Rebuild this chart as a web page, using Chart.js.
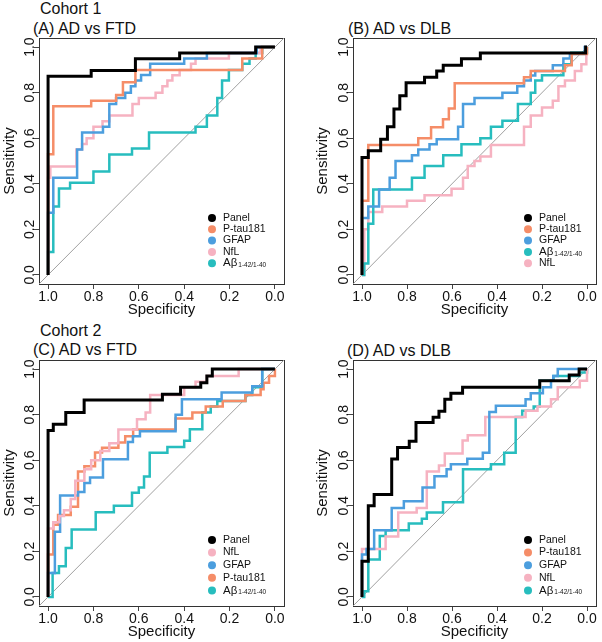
<!DOCTYPE html>
<html>
<head>
<meta charset="utf-8">
<script src="https://cdn.jsdelivr.net/npm/chart.js@4.4.1/dist/chart.umd.min.js"></script>
<style>
  body { margin: 0; background: #fff; }
  #wrap { position: relative; width: 602px; height: 642px; background: #fff; overflow: hidden; }
  canvas { position: absolute; }
  .ttl { position: absolute; font-family: "Liberation Sans", Arial, sans-serif; font-size: 16px; line-height: 1; color: #111; white-space: nowrap; }
</style>
</head>
<body>
<div id="wrap">
  <div class="ttl" style="left:40px; top:1px;">Cohort 1</div>
  <div class="ttl" style="left:33px; top:21px;">(A) AD vs FTD</div>
  <div class="ttl" style="left:348px; top:21px;">(B) AD vs DLB</div>
  <div class="ttl" style="left:40px; top:323px;">Cohort 2</div>
  <div class="ttl" style="left:33px; top:342px;">(C) AD vs FTD</div>
  <div class="ttl" style="left:347px; top:343px;">(D) AD vs DLB</div>
  <canvas id="chartA" width="300" height="320" style="left:0px; top:0px;"></canvas>
  <canvas id="chartB" width="302" height="320" style="left:300px; top:0px;"></canvas>
  <canvas id="chartC" width="300" height="322" style="left:0px; top:320px;"></canvas>
  <canvas id="chartD" width="302" height="322" style="left:300px; top:320px;"></canvas>
</div>
<script>
// ---------------------------------------------------------------
// data: step corners of each ROC curve (specificity, sensitivity)
// ---------------------------------------------------------------
const tickValues = [0, 0.2, 0.4, 0.6, 0.8, 1.0];

// (A) Cohort 1, AD vs FTD
const specA_panel = [1, 0.81, 0.615, 0.42, 0.085];
const sensA_panel = [0.872, 0.897, 0.949, 0.974, 1.0];
const specA_ptau = [1, 0.977, 0.81, 0.70, 0.67, 0.615, 0.144, 0.056];
const sensA_ptau = [0.53, 0.74, 0.765, 0.79, 0.846, 0.90, 0.95, 1.0];
const specA_gfap = [1, 0.977, 0.872, 0.85, 0.758, 0.73, 0.70, 0.66, 0.635, 0.615, 0.59, 0.55, 0.40, 0.30, 0.08];
const sensA_gfap = [0.273, 0.427, 0.55, 0.625, 0.65, 0.75, 0.777, 0.80, 0.828, 0.853, 0.878, 0.927, 0.95, 0.974, 1.0];
const specA_nfl = [1, 0.99, 0.875, 0.85, 0.83, 0.80, 0.76, 0.73, 0.628, 0.60, 0.526, 0.496, 0.474, 0.452, 0.42, 0.37, 0.35, 0.203, 0.063];
const sensA_nfl = [0.427, 0.476, 0.55, 0.575, 0.60, 0.65, 0.675, 0.70, 0.75, 0.777, 0.80, 0.828, 0.853, 0.877, 0.90, 0.927, 0.95, 0.974, 1.0];
const specA_ab = [1, 0.977, 0.952, 0.903, 0.80, 0.73, 0.63, 0.555, 0.35, 0.30, 0.254, 0.233, 0.203, 0.144, 0.112, 0.085, 0.056];
const sensA_ab = [0.10, 0.30, 0.379, 0.405, 0.454, 0.528, 0.555, 0.625, 0.65, 0.70, 0.777, 0.853, 0.90, 0.927, 0.95, 0.974, 1.0];

// (B) Cohort 1, AD vs DLB
const specB_panel = [1, 0.972, 0.917, 0.887, 0.858, 0.832, 0.804, 0.722, 0.668, 0.639, 0.558, 0.474, 0.006];
const sensB_panel = [0.515, 0.545, 0.596, 0.65, 0.728, 0.787, 0.843, 0.868, 0.895, 0.92, 0.949, 0.974, 1.0];
const specB_ptau = [1, 0.972, 0.75, 0.693, 0.64, 0.614, 0.588, 0.28, 0.25, 0.098, 0.068, 0.0];
const sensB_ptau = [0.325, 0.57, 0.60, 0.648, 0.683, 0.731, 0.841, 0.868, 0.895, 0.92, 0.97, 1.0];
const specB_gfap = [1, 0.972, 0.924, 0.877, 0.851, 0.778, 0.75, 0.70, 0.668, 0.573, 0.551, 0.50, 0.376, 0.31, 0.28, 0.25, 0.23, 0.152, 0.105, 0.076, 0.01];
const sensB_gfap = [0.25, 0.30, 0.375, 0.427, 0.50, 0.525, 0.55, 0.574, 0.596, 0.65, 0.75, 0.777, 0.80, 0.828, 0.853, 0.875, 0.895, 0.92, 0.95, 0.97, 1.0];
const specB_ab = [0.99, 0.972, 0.95, 0.778, 0.722, 0.639, 0.558, 0.474, 0.427, 0.376, 0.307, 0.25, 0.23, 0.20, 0.105, 0.07, 0.0];
const sensB_ab = [0.05, 0.225, 0.375, 0.427, 0.478, 0.525, 0.574, 0.60, 0.65, 0.677, 0.75, 0.80, 0.853, 0.877, 0.925, 0.975, 1.0];
const specB_nfl = [0.99, 0.972, 0.91, 0.80, 0.722, 0.602, 0.551, 0.53, 0.50, 0.474, 0.427, 0.28, 0.25, 0.20, 0.152, 0.127, 0.098, 0.054, 0.025, 0.003];
const sensB_nfl = [0.20, 0.276, 0.30, 0.325, 0.35, 0.378, 0.427, 0.478, 0.50, 0.52, 0.57, 0.65, 0.70, 0.735, 0.765, 0.828, 0.853, 0.895, 0.925, 1.0];

// (C) Cohort 2, AD vs FTD
const specC_panel = [1, 0.977, 0.922, 0.841, 0.496, 0.416, 0.327, 0.30, 0.276];
const sensC_panel = [0.73, 0.758, 0.81, 0.864, 0.89, 0.92, 0.94, 0.97, 1.0];
const specC_nfl = [1, 0.977, 0.95, 0.93, 0.90, 0.88, 0.84, 0.81, 0.77, 0.73, 0.69, 0.608, 0.57, 0.55, 0.40, 0.35, 0.30, 0.16];
const sensC_nfl = [0.30, 0.328, 0.355, 0.38, 0.43, 0.51, 0.56, 0.60, 0.64, 0.675, 0.735, 0.78, 0.81, 0.886, 0.92, 0.945, 0.97, 1.0];
const specC_gfap = [1, 0.97, 0.947, 0.868, 0.84, 0.815, 0.758, 0.648, 0.626, 0.595, 0.438, 0.41, 0.235, 0.10, 0.056];
const sensC_gfap = [0.105, 0.286, 0.445, 0.46, 0.50, 0.524, 0.604, 0.68, 0.705, 0.727, 0.80, 0.868, 0.897, 0.925, 1.0];
const specC_ptau = [1, 0.977, 0.956, 0.90, 0.868, 0.84, 0.793, 0.762, 0.69, 0.66, 0.625, 0.438, 0.364, 0.305, 0.23, 0.13, 0.063, 0.05, 0.026, 0];
const sensC_ptau = [0.186, 0.317, 0.36, 0.396, 0.55, 0.573, 0.634, 0.655, 0.678, 0.705, 0.735, 0.783, 0.81, 0.836, 0.86, 0.886, 0.912, 0.94, 0.97, 1.0];
const specC_ab = [0.98, 0.952, 0.922, 0.896, 0.79, 0.71, 0.63, 0.60, 0.577, 0.552, 0.474, 0.40, 0.375, 0.32, 0.283, 0.254, 0.13, 0.10, 0.056];
const sensC_ab = [0.105, 0.135, 0.215, 0.296, 0.372, 0.40, 0.457, 0.48, 0.528, 0.633, 0.658, 0.685, 0.736, 0.81, 0.836, 0.86, 0.886, 0.92, 1.0];

// (D) Cohort 2, AD vs DLB
const specD_panel = [1, 0.972, 0.946, 0.868, 0.842, 0.79, 0.76, 0.684, 0.658, 0.632, 0.605, 0.553, 0.21, 0.079, 0.035];
const sensD_panel = [0.157, 0.40, 0.45, 0.605, 0.656, 0.683, 0.766, 0.789, 0.815, 0.868, 0.894, 0.92, 0.949, 0.974, 1.0];
const specD_ptau = [];
const sensD_ptau = [];
const specD_gfap = [1, 0.98, 0.946, 0.868, 0.814, 0.731, 0.678, 0.624, 0.605, 0.532, 0.463, 0.434, 0.405, 0.273, 0.25, 0.196, 0.16, 0.15, 0.13];
const sensD_gfap = [0.186, 0.21, 0.293, 0.39, 0.42, 0.48, 0.53, 0.56, 0.582, 0.607, 0.633, 0.812, 0.839, 0.868, 0.894, 0.92, 0.949, 0.97, 1.0];
const specD_nfl = [1, 0.895, 0.839, 0.757, 0.712, 0.658, 0.632, 0.553, 0.53, 0.452, 0.273, 0.22, 0.16, 0.13, 0.032, 0.0];
const sensD_nfl = [0.21, 0.265, 0.37, 0.39, 0.55, 0.577, 0.63, 0.687, 0.71, 0.79, 0.817, 0.836, 0.868, 0.92, 0.949, 1.0];
const specD_ab = [0.99, 0.972, 0.921, 0.895, 0.792, 0.734, 0.712, 0.64, 0.551, 0.427, 0.368, 0.317, 0.288, 0.237, 0.21, 0.149, 0.035, 0];
const sensD_ab = [0.025, 0.164, 0.267, 0.293, 0.322, 0.343, 0.37, 0.416, 0.56, 0.582, 0.633, 0.79, 0.817, 0.836, 0.949, 0.97, 0.985, 1.0];

// ---------------------------------------------------------------
const colors = { 'Panel': '#000000', 'P-tau181': '#F58D68', 'GFAP': '#4C9EDE', 'NfL': '#F6B2C1', 'Aβ': '#27BDBE' };
const FONT = '"Liberation Sans", Arial, Helvetica, sans-serif';

// turn step corners into the drawn staircase
function steps(spec, sens) {
    if (spec.length === 0) return [];
    let pts = [{ x: 1, y: 0 }];
    let prev = 0;
    for (let i = 0; i < spec.length; i++) {
        pts.push({ x: spec[i], y: prev });
        pts.push({ x: spec[i], y: sens[i] });
        prev = sens[i];
    }
    pts.push({ x: 0, y: prev });
    return pts;
}

function series(label, spec, sens) {
    return {
        label: label,
        sub: label === 'Aβ' ? '1-42/1-40' : null,
        data: steps(spec, sens),
        borderColor: colors[label],
        backgroundColor: colors[label],
        borderWidth: label === 'Panel' ? 3 : 2.5,
        showLine: true,
        pointRadius: 0,
        tension: 0,
        inLegend: true
    };
}

const diagonal = {
    label: 'ref',
    data: [{ x: 1.04, y: -0.04 }, { x: -0.04, y: 1.04 }],
    borderColor: '#a0a0a0',
    borderWidth: 1,
    showLine: true,
    pointRadius: 0,
    inLegend: false
};

// box around the plot region, like R's box()
const boxPlugin = {
    id: 'rbox',
    beforeDatasetsDraw(chart) {
        const { ctx, chartArea: a } = chart;
        ctx.save();
        ctx.strokeStyle = '#333';
        ctx.lineWidth = 1;
        ctx.strokeRect(Math.round(a.left) + 0.5, Math.round(a.top) + 0.5, Math.round(a.right - a.left), Math.round(a.bottom - a.top));
        ctx.restore();
    }
};

// legend inside the plot, bottom right
const insideLegend = {
    id: 'insideLegend',
    afterDraw(chart, args, opts) {
        const { ctx, chartArea } = chart;
        const items = chart.data.datasets.filter(d => d.inLegend);
        ctx.save();
        items.forEach((d, i) => {
            const cx = chartArea.right + opts.dx;
            const cy = chartArea.bottom + opts.dy + i * opts.gap;
            ctx.fillStyle = d.borderColor;
            ctx.beginPath();
            ctx.arc(cx, cy, 4, 0, Math.PI * 2);
            ctx.fill();
            ctx.fillStyle = '#111';
            ctx.textBaseline = 'middle';
            ctx.textAlign = 'left';
            if (d.sub) {
                ctx.font = '11.5px ' + FONT;
                ctx.fillText(d.label, cx + 11, cy);
                const w = ctx.measureText(d.label).width;
                ctx.font = '6.5px ' + FONT;
                ctx.fillText(d.sub, cx + 11 + w + 1, cy + 2);
            } else {
                ctx.font = '10.5px ' + FONT;
                ctx.fillText(d.label, cx + 11, cy);
            }
        });
        ctx.restore();
    }
};

function makeChart(id, datasets, lay, leg) {
    const tickFont = { family: FONT, size: 14 };
    const titleFont = { family: FONT, size: 15 };
    return new Chart(document.getElementById(id), {
        type: 'scatter',
        data: { datasets: datasets.concat([diagonal]) },
        options: {
            responsive: false,
            animation: false,
            layout: { padding: { top: lay.top, right: lay.right, left: lay.left, bottom: 0 } },
            plugins: {
                legend: { display: false },
                tooltip: { enabled: false },
                insideLegend: leg
            },
            scales: {
                x: {
                    type: 'linear', reverse: true, min: -0.04, max: 1.04,
                    afterBuildTicks: s => { s.ticks = tickValues.map(v => ({ value: v })); },
                    afterFit: s => { s.height = 36; },
                    border: { display: false },
                    grid: { drawOnChartArea: false, tickLength: 5, color: '#444' },
                    ticks: { font: tickFont, color: '#111', padding: 0, maxRotation: 0, callback: v => v.toFixed(1) },
                    title: { display: true, text: 'Specificity', font: titleFont, color: '#111', padding: { top: 0, bottom: 1 } }
                },
                y: {
                    type: 'linear', min: -0.04, max: 1.04,
                    afterBuildTicks: s => { s.ticks = tickValues.map(v => ({ value: v })); },
                    afterFit: s => { s.width = lay.yw; },
                    border: { display: false },
                    grid: { drawOnChartArea: false, tickLength: 5, color: '#444' },
                    ticks: { font: tickFont, color: '#111', padding: -6, minRotation: 90, maxRotation: 90, crossAlign: 'center', callback: v => v.toFixed(1) },
                    title: { display: true, text: 'Sensitivity', font: titleFont, color: '#111', padding: { top: 1, bottom: 0 } }
                }
            }
        },
        plugins: [boxPlugin, insideLegend]
    });
}

makeChart('chartA', [
    series('Panel', specA_panel, sensA_panel),
    series('P-tau181', specA_ptau, sensA_ptau),
    series('GFAP', specA_gfap, sensA_gfap),
    series('NfL', specA_nfl, sensA_nfl),
    series('Aβ', specA_ab, sensA_ab)
], { top: 38, right: 16, left: 0, yw: 39 }, { dx: -72, dy: -66, gap: 11.3 });

makeChart('chartB', [
    series('Panel', specB_panel, sensB_panel),
    series('P-tau181', specB_ptau, sensB_ptau),
    series('GFAP', specB_gfap, sensB_gfap),
    series('Aβ', specB_ab, sensB_ab),
    series('NfL', specB_nfl, sensB_nfl)
], { top: 38, right: 6, left: 13, yw: 40 }, { dx: -68, dy: -66, gap: 11.3 });

makeChart('chartC', [
    series('Panel', specC_panel, sensC_panel),
    series('NfL', specC_nfl, sensC_nfl),
    series('GFAP', specC_gfap, sensC_gfap),
    series('P-tau181', specC_ptau, sensC_ptau),
    series('Aβ', specC_ab, sensC_ab)
], { top: 40, right: 16, left: 0, yw: 39 }, { dx: -72, dy: -66, gap: 12.6 });

makeChart('chartD', [
    series('Panel', specD_panel, sensD_panel),
    series('P-tau181', specD_ptau, sensD_ptau),
    series('GFAP', specD_gfap, sensD_gfap),
    series('NfL', specD_nfl, sensD_nfl),
    series('Aβ', specD_ab, sensD_ab)
], { top: 40, right: 6, left: 13, yw: 40 }, { dx: -68, dy: -66, gap: 12.6 });
</script>
</body>
</html>
